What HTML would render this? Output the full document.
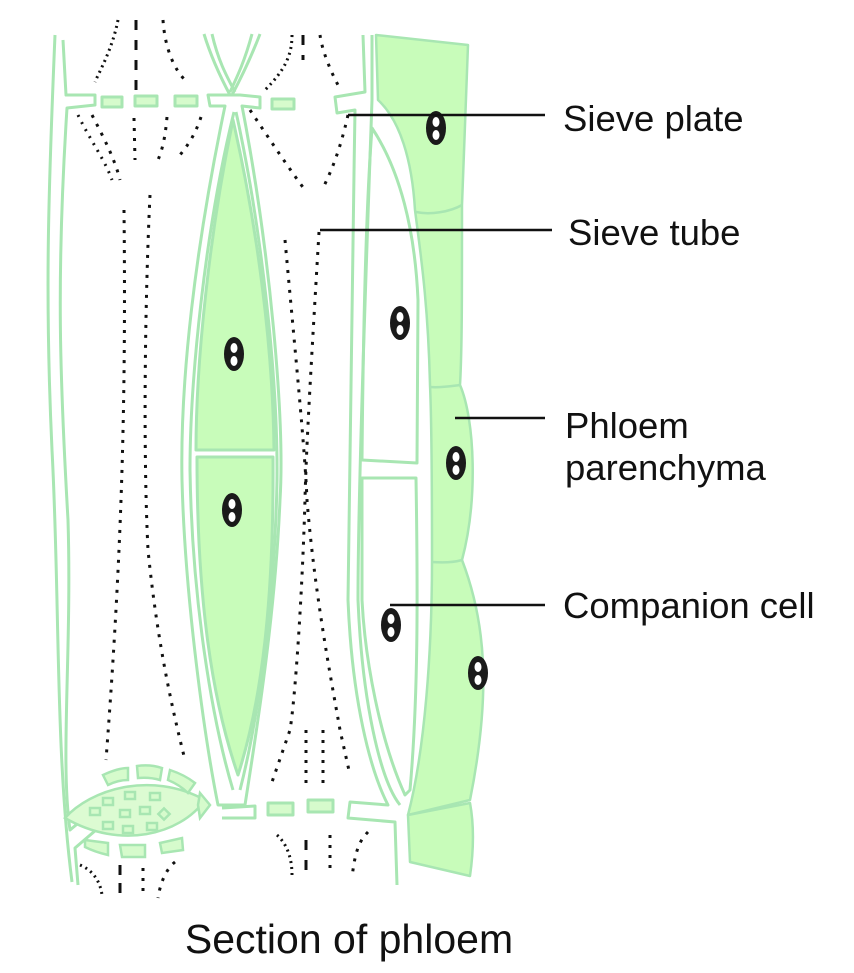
<!DOCTYPE html>
<html><head><meta charset="utf-8"><style>
html,body{margin:0;padding:0;background:#fff;}
svg{display:block;}
text{font-family:"Liberation Sans",Arial,sans-serif;fill:#111;}
</style></head><body>
<svg width="854" height="973" viewBox="0 0 854 973" xmlns="http://www.w3.org/2000/svg">
<g fill="none" stroke="#a8e6b2" stroke-width="3" stroke-linejoin="round">
  <path d="M55,35 C48,200 45,300 52,450 C60,600 55,750 72,882"/>
  <path d="M63,40 L66,95 L95,95 L95,105 L67,108 C56,280 60,380 68,520 C72,650 60,760 70,830 L100,805 L110,818 L75,848 L78,885"/>
  <rect x="102" y="97" width="20" height="10" fill="#d6fbcc"/>
  <rect x="135" y="96" width="22" height="10" fill="#d6fbcc"/>
  <rect x="175" y="96" width="22" height="10" fill="#d6fbcc"/>
  <rect x="272" y="99" width="22" height="10" fill="#d6fbcc"/>
  <path d="M204,34 C212,60 222,80 230,95 M212,34 C218,60 226,75 235,92 M260,34 C250,60 240,80 232,95 M252,34 C245,60 238,75 230,92"/>
  <path d="M208,95 L240,95 L260,97 L260,108 L242,106 C270,250 285,420 280,500 C275,620 255,740 245,805 L218,805 C205,740 185,600 182,480 C180,380 195,250 225,106 L210,106 Z"/>
  <path d="M234,112 C205,230 190,380 190,470 C192,600 212,720 233,790 M236,112 C262,230 278,380 277,480 C275,600 258,720 240,790"/>
  <path d="M233,120 C210,230 196,360 196,450 L274,450 C273,350 258,230 233,120 Z" fill="#c8fcba"/>
  <path d="M197,457 L273,457 C274,600 262,700 238,775 C212,700 197,600 197,457 Z" fill="#c8fcba"/>
  <path d="M363,35 L365,92 L335,97 L337,113 L355,110 C352,300 348,500 348,600 C352,700 370,770 388,805 L350,802 L348,818 L395,822 L397,885"/>
  <path d="M372,35 L372,100 C365,300 358,500 358,600 C362,700 380,780 400,805"/>
  <path d="M372,128 C400,170 415,230 418,300 L417,463 L362,460 C363,350 365,220 372,128 Z"/>
  <path d="M362,478 L416,478 C418,600 418,700 410,790 L405,795 C380,740 365,660 362,600 Z"/>
  <path d="M222,808 L255,806 L255,818 L222,818"/>
  <rect x="268" y="803" width="25" height="12" fill="#d6fbcc"/>
  <rect x="308" y="800" width="25" height="12" fill="#d6fbcc"/>
</g>
<g fill="#c8fcba" stroke="#a8e6b2" stroke-width="2.5" stroke-linejoin="round">
  <path d="M376,35 L468,45 L462,205 C462,300 462,350 460,385 C475,420 478,500 462,560 C485,620 492,690 470,800 L408,815 C425,750 432,650 432,560 C432,500 432,430 430,385 C428,300 420,250 415,210 C412,160 400,120 378,100 Z"/>
  <path d="M408,815 L470,803 C475,830 473,855 470,876 L410,862 Z"/>
  <path d="M416,212 C430,215 450,212 462,205 M430,387 C440,388 452,386 460,385 M432,562 C445,563 455,562 462,560" fill="none"/>
</g>
<g stroke="#a8e6b2" stroke-width="2.5" fill="#d6fbcc">
  <path d="M65,818 C90,790 150,770 205,800 C180,835 120,850 65,818 Z" fill="#dcfbd2"/>
  <path d="M103,775 Q118,768 128,768 L128,780 Q118,780 108,785 Z"/>
  <path d="M137,766 Q150,764 162,768 L160,780 Q150,777 138,778 Z"/>
  <path d="M170,770 Q185,775 195,783 L188,793 Q180,785 168,780 Z"/>
  <path d="M200,793 L210,805 L200,818 L198,805 Z"/>
  <path d="M85,840 L108,843 L108,855 Q95,852 85,847 Z"/>
  <path d="M120,845 L145,845 L145,857 L122,857 Z"/>
  <path d="M160,843 L182,838 L183,850 L162,853 Z"/>
  <rect x="103" y="798" width="10" height="7"/><rect x="125" y="792" width="10" height="7"/><rect x="150" y="793" width="10" height="7"/>
  <rect x="90" y="808" width="10" height="7"/><rect x="120" y="810" width="10" height="7"/><rect x="140" y="807" width="10" height="7"/><rect x="160" y="810" width="8" height="8" transform="rotate(45 164 814)"/>
  <rect x="103" y="822" width="10" height="7"/><rect x="123" y="826" width="10" height="7"/><rect x="147" y="823" width="10" height="7"/>
</g>
<g fill="none" stroke="#111" stroke-width="3" stroke-dasharray="3 7">
  <path d="M118,20 C112,50 100,70 95,82" stroke-dasharray="2 4"/>
  <path d="M163,20 C165,50 175,70 185,80"/>
  <path d="M292,35 C292,55 285,70 265,90" stroke-dasharray="2 4"/>
  <path d="M320,35 C322,50 330,70 338,85"/>
  <path d="M78,115 C90,140 105,160 112,180" stroke-dasharray="2 6"/>
  <path d="M92,115 C105,140 115,160 120,180"/>
  <path d="M134,118 L135,160"/>
  <path d="M167,117 C165,140 162,150 158,160"/>
  <path d="M201,117 C195,135 188,145 180,155"/>
  <path d="M250,110 C270,140 290,170 305,190"/>
  <path d="M348,115 C340,150 332,170 322,190"/>
  <path d="M150,195 C145,300 143,450 148,550 C158,650 175,720 185,760"/>
  <path d="M124,210 C126,400 122,550 106,760"/>
  <path d="M319,232 C312,350 306,450 305,500 C302,600 295,700 290,730 L272,782"/>
  <path d="M285,240 C295,350 305,450 307,500 C315,600 335,700 340,730 L350,775"/>
  <path d="M306,730 L306,785 M323,730 L323,785"/>
  <path d="M277,835 C288,845 292,860 292,875" stroke-dasharray="2 4"/>
  <path d="M306,840 L306,880" stroke-dasharray="10 10"/>
  <path d="M330,835 L330,875"/>
  <path d="M368,832 C360,840 355,850 352,878"/>
  <path d="M80,865 C92,870 100,880 102,895" stroke-dasharray="2 4"/>
  <path d="M120,865 L120,900" stroke-dasharray="10 8"/>
  <path d="M143,868 L143,898"/>
  <path d="M175,862 C165,870 160,885 158,898"/>
  <path d="M136,20 L136,95" stroke-dasharray="10 10"/>
  <path d="M303,35 L303,60" stroke-dasharray="10 10"/>
</g>
<g>
  <g transform="translate(436,128)"><ellipse rx="10" ry="17" fill="#1a1a1a"/><ellipse cy="-6" rx="3.5" ry="5" fill="#fff"/><ellipse cy="7" rx="3.5" ry="5" fill="#fff"/></g>
  <g transform="translate(400,323)"><ellipse rx="10" ry="17" fill="#1a1a1a"/><ellipse cy="-6" rx="3.5" ry="5" fill="#fff"/><ellipse cy="7" rx="3.5" ry="5" fill="#fff"/></g>
  <g transform="translate(234,354)"><ellipse rx="10" ry="17" fill="#1a1a1a"/><ellipse cy="-6" rx="3.5" ry="5" fill="#fff"/><ellipse cy="7" rx="3.5" ry="5" fill="#fff"/></g>
  <g transform="translate(232,510)"><ellipse rx="10" ry="17" fill="#1a1a1a"/><ellipse cy="-6" rx="3.5" ry="5" fill="#fff"/><ellipse cy="7" rx="3.5" ry="5" fill="#fff"/></g>
  <g transform="translate(456,463)"><ellipse rx="10" ry="17" fill="#1a1a1a"/><ellipse cy="-6" rx="3.5" ry="5" fill="#fff"/><ellipse cy="7" rx="3.5" ry="5" fill="#fff"/></g>
  <g transform="translate(391,625)"><ellipse rx="10" ry="17" fill="#1a1a1a"/><ellipse cy="-6" rx="3.5" ry="5" fill="#fff"/><ellipse cy="7" rx="3.5" ry="5" fill="#fff"/></g>
  <g transform="translate(478,673)"><ellipse rx="10" ry="17" fill="#1a1a1a"/><ellipse cy="-6" rx="3.5" ry="5" fill="#fff"/><ellipse cy="7" rx="3.5" ry="5" fill="#fff"/></g>
</g>
<g stroke="#111" stroke-width="2.5">
  <line x1="348" y1="115" x2="545" y2="115"/>
  <line x1="320" y1="230" x2="552" y2="230"/>
  <line x1="455" y1="418" x2="545" y2="418"/>
  <line x1="390" y1="605" x2="545" y2="605"/>
</g>
<g font-size="36.5">
  <text x="563" y="131">Sieve plate</text>
  <text x="568" y="245">Sieve tube</text>
  <text x="565" y="438">Phloem</text>
  <text x="565" y="480">parenchyma</text>
  <text x="563" y="618">Companion cell</text>
</g>
<text x="349" y="953" font-size="41" text-anchor="middle">Section of phloem</text>
</svg>
</body></html>
